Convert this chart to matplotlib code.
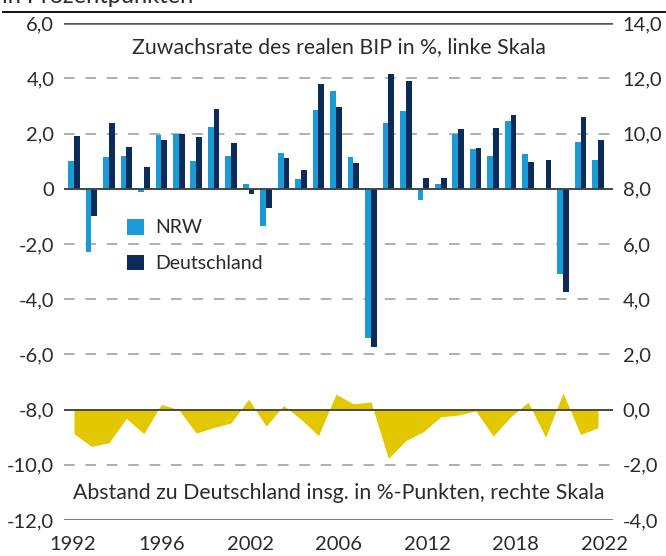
import matplotlib
matplotlib.use("Agg")
import matplotlib.pyplot as plt
from matplotlib.patches import Patch
from matplotlib.lines import Line2D
import numpy as np

plt.rcParams['font.family'] = ['Lato', 'DejaVu Sans']

years = list(range(1992, 2023))
nrw = [1.0, -2.3, 1.15, 1.2, -0.1, 1.95, 2.0, 1.0, 2.25, 1.2, 0.16, -1.33, 1.3, 0.35, 2.86,
       3.53, 1.14, -5.42, 2.4, 2.83, -0.39, 0.16, 1.98, 1.44, 1.2, 2.45, 1.26, 0.0, -3.09, 1.7, 1.05]
deutschland = [1.9, -1.0, 2.38, 1.53, 0.79, 1.77, 2.0, 1.87, 2.89, 1.67, -0.2, -0.7, 1.13, 0.7, 3.8,
               2.97, 0.92, -5.72, 4.16, 3.92, 0.4, 0.41, 2.18, 1.47, 2.22, 2.67, 0.96, 1.03, -3.72, 2.6, 1.77]
abstand = [-0.87, -1.33, -1.2, -0.32, -0.87, 0.19, 0.0, -0.85, -0.65, -0.48, 0.38, -0.6, 0.15, -0.35, -0.94,
           0.56, 0.21, 0.28, -1.77, -1.12, -0.8, -0.26, -0.2, -0.04, -0.96, -0.26, 0.27, -1.0, 0.6, -0.9, -0.66]

left_ticks = [6, 4, 2, 0, -2, -4, -6, -8, -10, -12]
left_labels = ["6,0", "4,0", "2,0", "0", "-2,0", "-4,0", "-6,0", "-8,0", "-10,0", "-12,0"]
right_ticks = [14, 12, 10, 8, 6, 4, 2, 0, -2, -4]
right_labels = ["14,0", "12,0", "10,0", "8,0", "6,0", "4,0", "2,0", "0,0", "-2,0", "-4,0"]
x_labels = ["1992", "1996", "2002", "2006", "2012", "2018", "2022"]

c_nrw = "#1b9ad8"
c_de = "#0b2b58"
c_gap = "#e3c700"
c_text = "#2b2b2b"

fig = plt.figure(figsize=(6.66, 5.56), dpi=100)
ax = fig.add_axes([64/666, 1-520/556, (613-64)/666, (520-23.3)/556])
ax2 = ax.twinx()

x = np.array(years, dtype=float)
w = 0.33
ax.bar(x - w/2, nrw, width=w, color=c_nrw, zorder=3, linewidth=0)
ax.bar(x + w/2, deutschland, width=w, color=c_de, zorder=3, linewidth=0)

# gridlines
for t in left_ticks:
    if t in (6, -12):
        ax.axhline(t, color="#555555", lw=1.8, zorder=1)
    elif t == 0:
        ax.axhline(t, color="#444444", lw=1.4, zorder=4)
    elif t == -8:
        pass
    else:
        ax.axhline(t, color="#9a9a9a", lw=1.1, ls=(0, (7, 7)), zorder=1)

ax2.fill_between(x, 0, abstand, color=c_gap, linewidth=0, zorder=2)
ax2.axhline(0, color="#4a4a3a", lw=1.4, zorder=4)

ax.set_xlim(1991.43, 2022.86)
ax.set_ylim(-12, 6)
ax2.set_ylim(-4, 14)

ax.set_yticks(left_ticks)
ax.set_yticklabels(left_labels)
ax2.set_yticks(right_ticks)
ax2.set_yticklabels(right_labels)
ax.set_xticks(np.linspace(1991.95, 2022.35, 7))
ax.set_xticklabels(x_labels)

for a in (ax, ax2):
    for s in a.spines.values():
        s.set_visible(False)
    a.tick_params(axis='both', length=0, labelsize=14.5, colors=c_text, pad=7)
ax.tick_params(axis='x', pad=11.5)

ax.text(0.5, 1 - (47-23.3)/(520-23.3), "Zuwachsrate des realen BIP in %, linke Skala",
        transform=ax.transAxes, ha='center', va='center', fontsize=15.3, color=c_text)
ax.text(0.5, 1 - (493-23.3)/(520-23.3), "Abstand zu Deutschland insg. in %-Punkten, rechte Skala",
        transform=ax.transAxes, ha='center', va='center', fontsize=15.3, color=c_text)

handles = [Patch(facecolor=c_nrw, edgecolor='none'), Patch(facecolor=c_de, edgecolor='none')]
leg = ax.legend(handles, ["NRW", "Deutschland"], loc='upper left',
                bbox_to_anchor=((127-64)/549, 1 - (219-23.3)/(520-23.3)),
                frameon=False, fontsize=14, handlelength=0.85, handleheight=0.85,
                handletextpad=0.6, labelspacing=0.95, borderpad=0, borderaxespad=0)
for t in leg.get_texts():
    t.set_color(c_text)
leg.set_zorder(5)

# header separator line and cut-off header text
fig.add_artist(Line2D([3/666, 665/666], [1-12/556, 1-12/556], transform=fig.transFigure,
                      color="#111111", lw=1.4))
fig.text(2/666, 1 - 3/556, "in Prozentpunkten", ha='left', va='baseline',
         fontsize=17, color=c_text)

fig.savefig("out.png", dpi=100)
